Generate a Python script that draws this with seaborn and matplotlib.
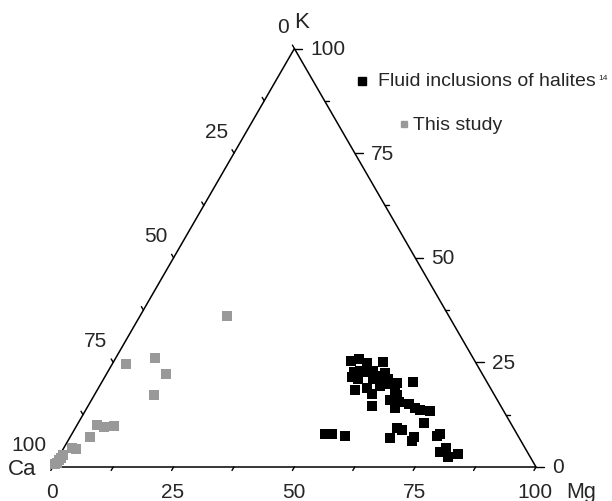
import numpy as np
import pandas as pd
import matplotlib
matplotlib.use('Agg')
import matplotlib.pyplot as plt
import seaborn as sns

# Ternary data (percent): Mg and K, Ca = 100 - Mg - K
halite_mg = [49.0, 50.6, 52.6, 55.8, 50.9, 52.1, 53.6, 54.7, 56.1, 57.6,
             51.1, 52.7, 55.8, 57.6, 58.9, 61.2, 64.4, 53.4, 55.6, 57.3,
             58.1, 59.3, 61.7, 62.7, 61.9, 63.8, 63.8, 58.8, 66.1, 68.0,
             69.2, 71.4, 71.5, 66.6, 67.8, 66.4, 71.1, 71.3, 75.8, 76.1,
             52.4, 53.8, 56.8, 78.3, 79.1, 80.5, 82.4]
halite_k = [25.3, 25.7, 24.8, 25.2, 22.7, 23.0, 22.7, 23.0, 21.8, 22.4,
            21.5, 21.1, 21.1, 20.7, 21.1, 20.0, 20.4, 18.3, 18.8, 17.5,
            19.3, 19.9, 18.3, 17.1, 15.9, 15.5, 14.0, 14.5, 15.1, 14.0,
            13.6, 13.5, 10.5, 9.3, 8.9, 6.9, 7.1, 6.1, 7.3, 8.0,
            7.9, 7.9, 7.5, 3.5, 4.6, 2.5, 3.0]

study_mg = [18.0, 8.0, 3.0, 12.4, 12.2, 4.0, 5.7, 7.9, 4.1, 1.6, 2.5,
            0.6, 0.5, 0.4, 0.3, 0.1]
study_k = [36.0, 26.1, 24.5, 22.2, 17.3, 10.1, 9.6, 9.7, 7.1, 4.6, 4.4,
           2.9, 2.2, 1.6, 1.0, 0.6]

tick_values = [0, 12.5, 25, 37.5, 50, 62.5, 75, 87.5, 100]
label_values = [0, 25, 50, 75, 100]

H = np.sqrt(3) / 2
PX = 4.832  # pixels per percent unit


def to_xy(mg, k):
    mg = np.asarray(mg, dtype=float)
    k = np.asarray(k, dtype=float)
    return mg + k / 2, k * H


hx, hy = to_xy(halite_mg, halite_k)
sx, sy = to_xy(study_mg, study_k)
df = pd.DataFrame({
    'x': np.concatenate([hx, sx]),
    'y': np.concatenate([hy, sy]),
    'group': ['halite'] * len(hx) + ['study'] * len(sx),
})

sns.set_style('white')
plt.rcParams['font.family'] = ['Liberation Sans', 'DejaVu Sans']

fig = plt.figure(figsize=(6.12, 5.02), dpi=100)
ax = fig.add_axes([0, 0, 1, 1])
ax.set_xlim(-52.8 / PX, (612 - 52.8) / PX)
ax.set_ylim((468 - 502) / PX, 468 / PX)
ax.axis('off')

# triangle frame
ax.plot([0, 100, 50, 0], [0, 0, 100 * H, 0], color='black', lw=1.1,
        solid_joinstyle='miter', zorder=2)

# points
sns.scatterplot(data=df[df.group == 'study'], x='x', y='y', marker='s',
                color='#999999', s=42, linewidth=0, ax=ax, zorder=3, legend=False)
sns.scatterplot(data=df[df.group == 'halite'], x='x', y='y', marker='s',
                color='black', s=48, linewidth=0, ax=ax, zorder=4, legend=False)

L = 4 / PX
for v in tick_values:
    major = v in label_values
    # bottom axis (Mg)
    bx, by = to_xy(v, 0)
    ax.plot([bx, bx - 0.5 * L], [by, by - H * L], color='black', lw=1)
    # left axis (Ca)
    lx, ly = to_xy(0, 100 - v)
    ax.plot([lx, lx - 0.5 * L], [ly, ly + H * L], color='black', lw=1)
    # right axis (K)
    rx, ry = to_xy(100 - v, v)
    rl = 8 / PX if major else 4 / PX
    ax.plot([rx, rx + rl], [ry, ry], color='black', lw=1)

fs = 15
for v in label_values:
    bx, by = to_xy(v, 0)
    ax.text(bx - 1 / PX, by - 25 / PX, f'{v}', ha='center', va='center', fontsize=fs)
    lx, ly = to_xy(0, 100 - v)
    ax.text(lx - 6 / PX, ly + 22 / PX, f'{v}', ha='right', va='center', fontsize=fs)
    rx, ry = to_xy(100 - v, v)
    ax.text(rx + 16 / PX, ry, f'{v}', ha='left', va='center', fontsize=fs)

# corner labels
ax.text((22 - 52.8) / PX, (468 - 470) / PX, 'Ca', ha='center', va='center', fontsize=16)
ax.text((581 - 52.8) / PX, (468 - 498) / PX, 'Mg', ha='center', va='baseline', fontsize=15.5)
ax.text((302 - 52.8) / PX, (468 - 23) / PX, 'K', ha='center', va='center', fontsize=16)

# legend drawn by hand
ax.plot([362 / 612], [1 - 82 / 502], 's', color='black', ms=6, transform=ax.transAxes)
ax.text(378 / 612, 1 - 82 / 502, 'Fluid inclusions of halites', ha='left', va='center',
        fontsize=14, transform=ax.transAxes)
ax.text(598 / 612, 1 - 78 / 502, '14', ha='left', va='center', fontsize=6,
        transform=ax.transAxes)
ax.plot([403.5 / 612], [1 - 125 / 502], 's', color='#999999', ms=5, transform=ax.transAxes)
ax.text(413 / 612, 1 - 125 / 502, 'This study', ha='left', va='center',
        fontsize=14, transform=ax.transAxes)

plt.savefig('out.png', dpi=100)
plt.close()
